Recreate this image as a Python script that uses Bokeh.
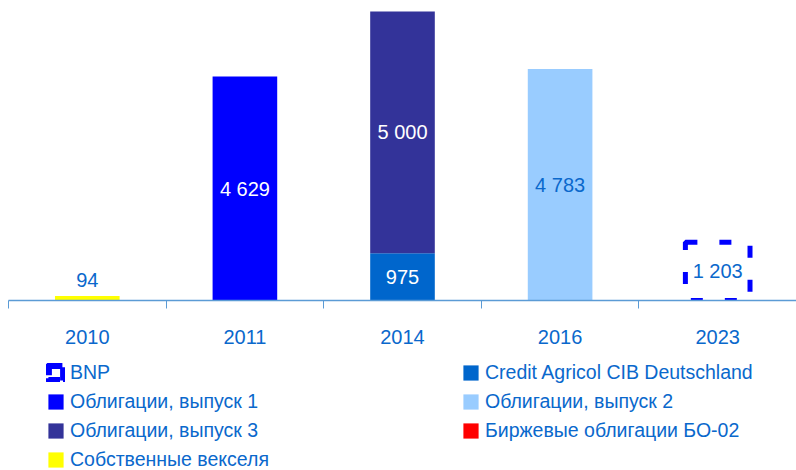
import numpy as np
from bokeh.plotting import figure
from bokeh.layouts import column
from bokeh.models import ColumnDataSource, Legend, LegendItem, FixedTicker, Range1d
from bokeh.core.properties import value
from bokeh.embed import file_html
from bokeh.resources import INLINE

categories = ["2010", "2011", "2014", "2016", "2023"]
bnp = [0, 0, 0, 0, 1203]
credit = [0, 0, 975, 0, 0]
obl1 = [0, 4629, 0, 0, 0]
obl2 = [0, 0, 0, 4783, 0]
obl3 = [0, 0, 5000, 0, 0]
birzh = [0, 0, 0, 0, 0]
veks = [94, 0, 0, 0, 0]

FONT = "'Liberation Sans', Arial, sans-serif"
TXT = "#0A68CC"

# stacking order bottom -> top
series = [
    ("Собственные векселя", veks, dict(fill_color="#FFFF00", line_color=None), "above"),
    ("Облигации, выпуск 1", obl1, dict(fill_color="#0000FF", line_color=None), "white"),
    ("Credit Agricol CIB Deutschland", credit, dict(fill_color="#0066CC", line_color=None), "white"),
    ("Облигации, выпуск 3", obl3, dict(fill_color="#333399", line_color=None), "white"),
    ("Облигации, выпуск 2", obl2, dict(fill_color="#99CCFF", line_color=None), TXT),
    ("BNP", bnp, dict(fill_color=None, line_color="#0000FF", line_width=5, line_dash="12 22"), TXT),
    ("Биржевые облигации БО-02", birzh, dict(fill_color="#FF0000", line_color=None), TXT),
]

xs = np.arange(len(categories)) + 0.5
ymax = 6200

p = figure(width=796, height=355, x_range=Range1d(0, len(categories)), y_range=Range1d(0, ymax),
           output_backend="svg", toolbar_location=None,
           min_border_left=8, min_border_right=0, min_border_top=0, min_border_bottom=55)
p.outline_line_color = None
p.grid.visible = False
p.yaxis.visible = False

xa = p.xaxis[0]
xa.ticker = FixedTicker(ticks=list(xs), minor_ticks=list(range(len(categories) + 1)))
xa.major_label_overrides = {float(x): c for x, c in zip(xs, categories)}
xa.major_tick_out = 0
xa.major_tick_in = 0
xa.minor_tick_out = 8
xa.minor_tick_in = 0
xa.minor_tick_line_color = "#5B9BD5"
xa.axis_line_color = "#5B9BD5"
xa.axis_line_width = 1.5
xa.major_label_text_font = FONT
xa.major_label_text_font_size = "20px"
xa.major_label_text_color = TXT
xa.major_label_standoff = 21

# legend-only figure below the chart (its renderers are hidden; only legend swatches show)
lg = figure(width=796, height=115, x_range=Range1d(0, len(categories)), y_range=Range1d(0, ymax),
            output_backend="svg", toolbar_location=None,
            min_border_left=0, min_border_right=0, min_border_top=0, min_border_bottom=0)
lg.outline_line_color = None
lg.grid.visible = False
lg.axis.visible = False

bottom = np.zeros(len(categories))
legend_renderers = {}
for name, vals, style, lab in series:
    v = np.array(vals, dtype=float)
    mask = v > 0
    full = dict(x=xs, bottom=bottom, top=bottom + v)
    src = ColumnDataSource(dict(x=xs[mask], bottom=bottom[mask], top=(bottom + v)[mask],
                                mid=(bottom + v / 2)[mask],
                                label=[f"{int(t):,}".replace(",", " ") for t in v[mask]]))
    p.vbar(x="x", bottom="bottom", top="top", width=0.41, source=src, **style)
    lstyle = dict(style)
    if name == "BNP":
        lstyle.update(line_width=7, line_dash="14 3")
    r = lg.vbar(x="x", bottom="bottom", top="top", width=0.41, source=ColumnDataSource(full), **lstyle)
    r.visible = False
    legend_renderers[name] = r
    if mask.any():
        if lab == "above":
            p.text(x="x", y="top", text="label", source=src, text_align="center", text_baseline="bottom",
                   y_offset=-9, text_font=value(FONT), text_font_size="20px", text_color=TXT)
        else:
            p.text(x="x", y="mid", text="label", source=src, text_align="center", text_baseline="middle",
                   text_font=value(FONT), text_font_size="20px", text_color=lab)
    bottom = bottom + v

order = ["BNP", "Credit Agricol CIB Deutschland", "Облигации, выпуск 1", "Облигации, выпуск 2",
         "Облигации, выпуск 3", "Биржевые облигации БО-02", "Собственные векселя"]
legend = Legend(items=[LegendItem(label=n, renderers=[legend_renderers[n]], index=0) for n in order],
                orientation="horizontal", ncols=2, location=(38, -1),
                glyph_width=19, glyph_height=19, label_standoff=5, label_width=385, label_height=20,
                label_text_font=FONT, label_text_font_size="19.5px", label_text_color=TXT,
                spacing=6, padding=0, margin=0, border_line_color=None, background_fill_alpha=0)
lg.add_layout(legend, "center")

layout = column(p, lg, spacing=0)
open("out.html", "w").write(file_html(layout, INLINE))
